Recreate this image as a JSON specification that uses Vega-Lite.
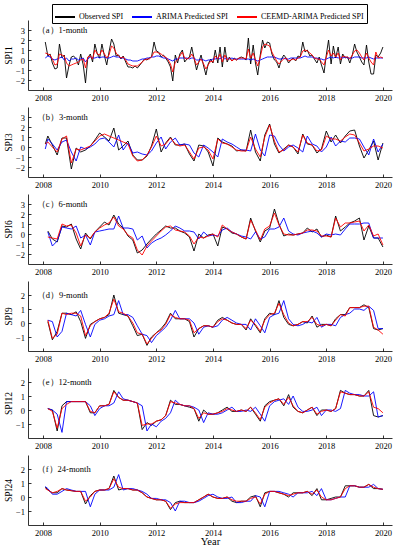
{
"$schema": "https://vega.github.io/schema/vega-lite/v6.json",
"padding": {"left": 3, "right": 8, "top": 3, "bottom": 2},
"bounds": "flush",
"spacing": 17,
"resolve": {"scale": {"color": "independent"}, "legend": {"color": "independent"}},
"config": {
 "font": "Liberation Serif",
 "view": {"stroke": null},
 "axis": {"domainColor": "black", "tickColor": "black", "labelColor": "black", "titleColor": "black", "labelFont": "Liberation Serif", "titleFont": "Liberation Serif", "labelFontSize": 8.5, "titleFontSize": 9.5, "titleFontWeight": "normal", "grid": false, "tickSize": -3, "domainWidth": 0.8, "tickWidth": 0.8, "labelOverlap": false},
 "axisY": {"labelPadding": 6.5, "titlePadding": 2, "tickCount": 10},
 "axisX": {"labelPadding": 6, "titlePadding": 1, "tickCount": 10},
 "text": {"font": "Liberation Serif", "fontSize": 8.5},
 "legend": {"orient": "none", "legendX": 24, "legendY": -16, "direction": "horizontal", "symbolType": "stroke", "symbolSize": 400, "symbolStrokeWidth": 2, "labelFont": "Liberation Serif", "labelFontSize": 8, "labelColor": "black", "strokeColor": "black", "fillColor": "white", "padding": 2, "columnPadding": 4, "labelOffset": 3}
},
"datasets": {
"a": [
{"t":2008.08,"o":1.8,"a":0.2,"c":0.7},{"t":2008.17,"o":0.4,"a":0.4,"c":0.6},{"t":2008.25,"o":0.6,"a":0.3,"c":0.5},{"t":2008.33,"o":-0.3,"a":0.1,"c":0.1},{"t":2008.42,"o":-0.9,"a":0.0,"c":-0.5},{"t":2008.5,"o":-0.8,"a":0.1,"c":-0.4},{"t":2008.58,"o":1.6,"a":0.2,"c":0.6},{"t":2008.67,"o":0.2,"a":0.3,"c":0.5},{"t":2008.75,"o":0.5,"a":0.0,"c":0.4},{"t":2008.83,"o":-1.8,"a":0.2,"c":-0.3},{"t":2008.92,"o":-0.5,"a":-0.1,"c":-0.6},{"t":2009.0,"o":0.3,"a":0.1,"c":-0.5},
{"t":2009.08,"o":0.4,"a":0.1,"c":-0.4},{"t":2009.17,"o":0.1,"a":0.2,"c":-0.3},{"t":2009.25,"o":-0.5,"a":0.0,"c":-0.2},{"t":2009.33,"o":0.6,"a":0.1,"c":0.0},{"t":2009.42,"o":-0.5,"a":0.2,"c":0.1},{"t":2009.5,"o":-2.3,"a":-0.2,"c":-0.8},{"t":2009.58,"o":0.2,"a":0.1,"c":0.3},{"t":2009.67,"o":0.6,"a":0.3,"c":0.4},{"t":2009.75,"o":-0.2,"a":0.2,"c":0.1},{"t":2009.83,"o":1.6,"a":0.2,"c":1.0},{"t":2009.92,"o":0.6,"a":0.3,"c":0.6},{"t":2010.0,"o":0.2,"a":0.2,"c":0.5},
{"t":2010.08,"o":1.6,"a":0.3,"c":1.0},{"t":2010.17,"o":0.4,"a":0.3,"c":0.6},{"t":2010.25,"o":-0.5,"a":0.2,"c":0.2},{"t":2010.33,"o":0.8,"a":0.2,"c":0.5},{"t":2010.42,"o":2.1,"a":0.3,"c":1.4},{"t":2010.5,"o":1.6,"a":0.4,"c":1.2},{"t":2010.58,"o":0.4,"a":0.3,"c":0.7},{"t":2010.67,"o":0.5,"a":0.3,"c":0.4},{"t":2010.75,"o":0.1,"a":0.2,"c":0.2},{"t":2010.83,"o":0.4,"a":0.2,"c":0.3},{"t":2010.92,"o":-0.2,"a":0.1,"c":0.0},{"t":2011.0,"o":-0.7,"a":0.0,"c":-0.4},
{"t":2011.08,"o":-0.7,"a":0.0,"c":-0.5},{"t":2011.17,"o":-0.8,"a":-0.1,"c":-0.6},{"t":2011.25,"o":-0.6,"a":-0.1,"c":-0.6},{"t":2011.33,"o":-0.8,"a":-0.1,"c":-0.6},{"t":2011.42,"o":-0.5,"a":0.0,"c":-0.4},{"t":2011.5,"o":-0.2,"a":0.1,"c":-0.2},{"t":2011.58,"o":0.1,"a":0.1,"c":0.0},{"t":2011.67,"o":0.0,"a":0.2,"c":0.1},{"t":2011.75,"o":0.2,"a":0.2,"c":0.1},{"t":2011.83,"o":0.3,"a":0.3,"c":0.3},{"t":2011.92,"o":1.8,"a":0.3,"c":0.8},{"t":2012.0,"o":0.9,"a":0.4,"c":0.8},
{"t":2012.08,"o":0.8,"a":0.4,"c":0.7},{"t":2012.17,"o":0.3,"a":0.3,"c":0.6},{"t":2012.25,"o":0.5,"a":0.2,"c":0.4},{"t":2012.33,"o":0.2,"a":0.2,"c":0.3},{"t":2012.42,"o":-0.2,"a":0.1,"c":0.0},{"t":2012.5,"o":-0.7,"a":0.0,"c":-0.4},{"t":2012.58,"o":-2.1,"a":-0.1,"c":-1.2},{"t":2012.67,"o":0.5,"a":0.1,"c":-0.2},{"t":2012.75,"o":-0.3,"a":0.1,"c":0.0},{"t":2012.83,"o":0.6,"a":0.2,"c":0.4},{"t":2012.92,"o":1.0,"a":0.2,"c":0.8},{"t":2013.0,"o":-0.2,"a":0.2,"c":0.2},
{"t":2013.08,"o":0.1,"a":0.2,"c":0.1},{"t":2013.17,"o":0.3,"a":0.1,"c":0.2},{"t":2013.25,"o":1.3,"a":0.2,"c":0.6},{"t":2013.33,"o":0.2,"a":0.2,"c":0.2},{"t":2013.42,"o":-1.0,"a":0.0,"c":-0.5},{"t":2013.5,"o":-0.2,"a":0.0,"c":-0.2},{"t":2013.58,"o":0.5,"a":0.1,"c":0.1},{"t":2013.67,"o":-0.6,"a":0.0,"c":-0.4},{"t":2013.75,"o":-1.5,"a":-0.1,"c":-0.9},{"t":2013.83,"o":-0.4,"a":0.0,"c":-0.5},{"t":2013.92,"o":0.1,"a":0.0,"c":-0.1},{"t":2014.0,"o":-0.3,"a":0.1,"c":-0.2},
{"t":2014.08,"o":1.0,"a":0.1,"c":0.4},{"t":2014.17,"o":-0.3,"a":0.2,"c":0.1},{"t":2014.25,"o":1.3,"a":0.1,"c":0.6},{"t":2014.33,"o":-0.7,"a":0.3,"c":-0.2},{"t":2014.42,"o":1.3,"a":0.1,"c":0.5},{"t":2014.5,"o":-0.2,"a":0.2,"c":0.0},{"t":2014.58,"o":0.3,"a":0.1,"c":0.2},{"t":2014.67,"o":-0.1,"a":0.2,"c":-0.1},{"t":2014.75,"o":0.2,"a":0.1,"c":0.1},{"t":2014.83,"o":0.0,"a":0.1,"c":0.0},{"t":2014.92,"o":0.2,"a":0.1,"c":0.2},{"t":2015.0,"o":0.3,"a":0.1,"c":0.2},
{"t":2015.08,"o":0.2,"a":0.1,"c":0.2},{"t":2015.17,"o":0.0,"a":0.1,"c":0.1},{"t":2015.25,"o":2.2,"a":0.1,"c":1.1},{"t":2015.33,"o":-0.4,"a":0.0,"c":0.2},{"t":2015.42,"o":1.5,"a":0.1,"c":0.7},{"t":2015.5,"o":-0.3,"a":0.0,"c":0.0},{"t":2015.58,"o":-1.5,"a":-0.1,"c":-0.6},{"t":2015.67,"o":0.5,"a":0.0,"c":0.3},{"t":2015.75,"o":2.0,"a":0.1,"c":1.3},{"t":2015.83,"o":1.2,"a":0.2,"c":1.6},{"t":2015.92,"o":1.8,"a":0.3,"c":1.5},{"t":2016.0,"o":1.7,"a":0.3,"c":1.4},
{"t":2016.08,"o":0.6,"a":0.3,"c":0.8},{"t":2016.17,"o":0.0,"a":0.3,"c":0.3},{"t":2016.25,"o":-0.2,"a":0.2,"c":-0.1},{"t":2016.33,"o":-0.8,"a":0.1,"c":-0.4},{"t":2016.42,"o":0.1,"a":0.1,"c":-0.1},{"t":2016.5,"o":0.5,"a":0.2,"c":0.1},{"t":2016.58,"o":0.2,"a":0.1,"c":0.2},{"t":2016.67,"o":-0.3,"a":0.1,"c":-0.1},{"t":2016.75,"o":0.0,"a":0.2,"c":0.0},{"t":2016.83,"o":0.2,"a":0.2,"c":0.1},{"t":2016.92,"o":-0.1,"a":0.2,"c":0.0},{"t":2017.0,"o":0.4,"a":0.2,"c":0.2},
{"t":2017.08,"o":0.3,"a":0.2,"c":0.3},{"t":2017.17,"o":1.8,"a":0.3,"c":0.9},{"t":2017.25,"o":0.8,"a":0.4,"c":1.0},{"t":2017.33,"o":1.0,"a":0.3,"c":0.9},{"t":2017.42,"o":0.4,"a":0.3,"c":0.7},{"t":2017.5,"o":0.5,"a":0.3,"c":0.5},{"t":2017.58,"o":0.1,"a":0.2,"c":0.2},{"t":2017.67,"o":-0.3,"a":0.2,"c":0.1},{"t":2017.75,"o":0.3,"a":0.1,"c":0.1},{"t":2017.83,"o":-0.5,"a":0.1,"c":-0.2},{"t":2017.92,"o":-1.3,"a":0.0,"c":-0.5},{"t":2018.0,"o":0.5,"a":0.1,"c":0.3},
{"t":2018.08,"o":2.0,"a":0.2,"c":1.0},{"t":2018.17,"o":-0.4,"a":0.3,"c":0.4},{"t":2018.25,"o":1.4,"a":0.2,"c":0.7},{"t":2018.33,"o":0.2,"a":0.3,"c":0.3},{"t":2018.42,"o":1.3,"a":0.2,"c":0.7},{"t":2018.5,"o":-0.4,"a":0.3,"c":0.0},{"t":2018.58,"o":0.6,"a":0.2,"c":0.4},{"t":2018.67,"o":0.2,"a":0.3,"c":0.3},{"t":2018.75,"o":0.3,"a":0.2,"c":0.3},{"t":2018.83,"o":-0.3,"a":0.2,"c":0.1},{"t":2018.92,"o":0.5,"a":0.2,"c":0.5},{"t":2019.0,"o":1.6,"a":0.3,"c":0.9},
{"t":2019.08,"o":0.8,"a":0.3,"c":1.0},{"t":2019.17,"o":0.3,"a":0.3,"c":0.7},{"t":2019.25,"o":-0.2,"a":0.2,"c":0.3},{"t":2019.33,"o":-0.5,"a":0.2,"c":0.0},{"t":2019.42,"o":1.5,"a":0.2,"c":0.7},{"t":2019.5,"o":-0.2,"a":0.3,"c":0.2},{"t":2019.58,"o":-1.4,"a":0.2,"c":-0.2},{"t":2019.67,"o":-1.4,"a":0.1,"c":-0.5},{"t":2019.75,"o":0.5,"a":0.2,"c":0.8},{"t":2019.83,"o":0.3,"a":0.2,"c":0.2},{"t":2019.92,"o":0.7,"a":0.2,"c":0.3},{"t":2020.0,"o":1.3,"a":0.2,"c":0.2}
],
"b": [
{"t":2008.08,"o":0.3,"a":-0.2,"c":0.3},{"t":2008.17,"o":1.1,"a":0.8,"c":0.5},{"t":2008.33,"o":0.2,"a":0.3,"c":0.0},{"t":2008.5,"o":-0.8,"a":-0.3,"c":-0.5},{"t":2008.67,"o":0.9,"a":0.5,"c":0.8},{"t":2008.83,"o":0.9,"a":0.7,"c":1.1},
{"t":2009.0,"o":-2.2,"a":-0.5,"c":-1.6},{"t":2009.17,"o":-0.1,"a":-1.4,"c":-0.2},{"t":2009.33,"o":-0.5,"a":0.0,"c":-0.3},{"t":2009.5,"o":-0.3,"a":-0.2,"c":-0.1},{"t":2009.67,"o":0.1,"a":0.0,"c":0.1},{"t":2009.83,"o":0.7,"a":0.3,"c":0.6},
{"t":2010.0,"o":1.4,"a":0.8,"c":1.1},{"t":2010.17,"o":1.0,"a":0.9,"c":1.3},{"t":2010.33,"o":0.6,"a":0.5,"c":1.1},{"t":2010.5,"o":1.9,"a":0.0,"c":0.9},{"t":2010.67,"o":-0.3,"a":1.2,"c":0.7},{"t":2010.83,"o":0.1,"a":-0.3,"c":0.5},
{"t":2011.0,"o":0.6,"a":0.4,"c":0.3},{"t":2011.17,"o":-0.8,"a":-0.6,"c":-0.9},{"t":2011.33,"o":-1.3,"a":-0.5,"c":-1.4},{"t":2011.5,"o":-1.3,"a":-0.7,"c":-1.3},{"t":2011.67,"o":-0.9,"a":-0.8,"c":-0.8},{"t":2011.83,"o":0.1,"a":-0.4,"c":0.0},
{"t":2012.0,"o":1.8,"a":0.4,"c":1.1},{"t":2012.17,"o":-0.5,"a":1.0,"c":0.1},{"t":2012.33,"o":0.4,"a":-0.2,"c":0.3},{"t":2012.5,"o":1.0,"a":0.5,"c":0.9},{"t":2012.67,"o":0.2,"a":0.9,"c":0.3},{"t":2012.83,"o":0.2,"a":0.2,"c":0.1},
{"t":2013.0,"o":0.3,"a":0.3,"c":0.2},{"t":2013.17,"o":-0.7,"a":0.2,"c":-0.5},{"t":2013.33,"o":-1.4,"a":-0.6,"c":-1.2},{"t":2013.5,"o":0.2,"a":-1.0,"c":-0.1},{"t":2013.67,"o":0.1,"a":0.2,"c":0.0},{"t":2013.83,"o":-0.5,"a":-0.1,"c":-0.3},
{"t":2014.0,"o":-1.9,"a":-0.5,"c":-1.2},{"t":2014.17,"o":0.9,"a":-1.0,"c":0.8},{"t":2014.33,"o":0.5,"a":0.8,"c":0.4},{"t":2014.5,"o":0.3,"a":0.5,"c":0.3},{"t":2014.67,"o":0.1,"a":0.3,"c":0.0},{"t":2014.83,"o":-0.4,"a":0.0,"c":-0.3},
{"t":2015.0,"o":-0.3,"a":-0.3,"c":-0.4},{"t":2015.17,"o":-0.4,"a":-0.3,"c":-0.4},{"t":2015.33,"o":1.7,"a":-0.4,"c":1.0},{"t":2015.5,"o":-0.5,"a":1.3,"c":-0.2},{"t":2015.67,"o":-1.4,"a":-0.3,"c":-1.0},{"t":2015.83,"o":1.2,"a":-0.9,"c":1.0},
{"t":2016.0,"o":2.3,"a":1.2,"c":2.2},{"t":2016.17,"o":0.3,"a":1.1,"c":0.6},{"t":2016.33,"o":-0.6,"a":0.2,"c":-0.5},{"t":2016.5,"o":-0.2,"a":-0.4,"c":-0.3},{"t":2016.67,"o":0.2,"a":0.0,"c":0.2},{"t":2016.83,"o":0.0,"a":0.2,"c":0.0},
{"t":2017.0,"o":-0.7,"a":-0.1,"c":-0.5},{"t":2017.17,"o":1.3,"a":-0.5,"c":1.2},{"t":2017.33,"o":0.3,"a":1.1,"c":0.4},{"t":2017.5,"o":0.2,"a":0.3,"c":0.2},{"t":2017.67,"o":-0.6,"a":0.1,"c":-0.4},{"t":2017.83,"o":-0.2,"a":-0.5,"c":-0.3},
{"t":2018.0,"o":1.6,"a":0.0,"c":1.1},{"t":2018.17,"o":0.5,"a":1.0,"c":0.8},{"t":2018.33,"o":1.2,"a":0.1,"c":0.8},{"t":2018.5,"o":0.4,"a":0.6,"c":0.6},{"t":2018.67,"o":1.1,"a":0.5,"c":1.0},{"t":2018.83,"o":1.6,"a":0.9,"c":1.3},
{"t":2019.0,"o":1.7,"a":0.9,"c":1.2},{"t":2019.17,"o":0.1,"a":0.8,"c":0.4},{"t":2019.33,"o":-1.1,"a":0.0,"c":-0.4},{"t":2019.5,"o":-0.3,"a":-0.8,"c":-0.2},{"t":2019.67,"o":0.6,"a":0.8,"c":0.1},{"t":2019.83,"o":-1.3,"a":-0.5,"c":0.1},
{"t":2020.0,"o":0.4,"a":0.3,"c":-0.1}
],
"c": [
{"t":2008.17,"o":0.3,"a":0.2,"c":-0.3},{"t":2008.33,"o":-0.5,"a":-1.2,"c":-0.4},{"t":2008.5,"o":-0.8,"a":-0.7,"c":-0.5},{"t":2008.67,"o":0.8,"a":0.7,"c":1.0},{"t":2008.83,"o":0.7,"a":0.6,"c":0.8},
{"t":2009.0,"o":1.0,"a":0.5,"c":0.9},{"t":2009.17,"o":-0.5,"a":0.8,"c":0.1},{"t":2009.33,"o":-1.5,"a":-0.4,"c":-1.2},{"t":2009.5,"o":0.1,"a":-0.1,"c":-0.1},{"t":2009.67,"o":-0.5,"a":-1.1,"c":-0.4},{"t":2009.83,"o":0.2,"a":0.2,"c":0.2},
{"t":2010.0,"o":0.7,"a":0.3,"c":0.6},{"t":2010.17,"o":1.2,"a":0.4,"c":0.9},{"t":2010.33,"o":0.9,"a":0.5,"c":1.1},{"t":2010.5,"o":1.9,"a":0.5,"c":1.7},{"t":2010.67,"o":1.0,"a":1.8,"c":0.8},{"t":2010.83,"o":0.6,"a":0.6,"c":0.5},
{"t":2011.0,"o":-0.2,"a":0.6,"c":-0.1},{"t":2011.17,"o":-0.6,"a":0.5,"c":-0.4},{"t":2011.33,"o":-1.9,"a":-0.6,"c":-1.6},{"t":2011.5,"o":-1.6,"a":-0.2,"c":-2.1},{"t":2011.67,"o":-1.0,"a":-1.4,"c":-1.2},{"t":2011.83,"o":-0.5,"a":-0.9,"c":-0.7},
{"t":2012.0,"o":0.0,"a":-0.6,"c":-0.2},{"t":2012.17,"o":0.4,"a":-0.4,"c":0.3},{"t":2012.33,"o":0.8,"a":-0.1,"c":0.7},{"t":2012.5,"o":0.6,"a":0.3,"c":0.8},{"t":2012.67,"o":0.6,"a":0.8,"c":0.4},{"t":2012.83,"o":0.3,"a":0.6,"c":0.3},
{"t":2013.0,"o":0.1,"a":0.3,"c":0.2},{"t":2013.17,"o":-0.3,"a":0.3,"c":-0.2},{"t":2013.33,"o":-1.7,"a":0.2,"c":-1.0},{"t":2013.5,"o":0.0,"a":-0.5,"c":-0.3},{"t":2013.67,"o":-0.4,"a":0.2,"c":-0.4},{"t":2013.83,"o":-0.1,"a":-0.2,"c":-0.2},
{"t":2014.0,"o":0.0,"a":-0.1,"c":0.0},{"t":2014.17,"o":-1.2,"a":-0.2,"c":-0.3},{"t":2014.33,"o":0.7,"a":0.4,"c":0.9},{"t":2014.5,"o":0.5,"a":0.6,"c":0.5},{"t":2014.67,"o":0.1,"a":0.2,"c":0.2},{"t":2014.83,"o":0.0,"a":0.0,"c":0.0},
{"t":2015.0,"o":-0.3,"a":-0.2,"c":-0.3},{"t":2015.17,"o":-0.5,"a":-0.3,"c":-0.5},{"t":2015.33,"o":1.6,"a":-0.5,"c":1.4},{"t":2015.5,"o":0.3,"a":0.2,"c":0.4},{"t":2015.67,"o":-0.8,"a":-0.5,"c":-0.6},{"t":2015.83,"o":0.3,"a":-0.3,"c":0.5},
{"t":2016.0,"o":0.6,"a":0.5,"c":0.8},{"t":2016.17,"o":2.5,"a":0.5,"c":2.1},{"t":2016.33,"o":1.0,"a":0.7,"c":0.9},{"t":2016.5,"o":-0.2,"a":1.6,"c":0.0},{"t":2016.67,"o":0.0,"a":0.3,"c":-0.1},{"t":2016.83,"o":-0.1,"a":0.0,"c":-0.1},
{"t":2017.0,"o":0.0,"a":-0.1,"c":0.0},{"t":2017.17,"o":0.1,"a":0.1,"c":0.1},{"t":2017.33,"o":0.6,"a":0.2,"c":0.4},{"t":2017.5,"o":0.2,"a":0.3,"c":0.4},{"t":2017.67,"o":0.5,"a":0.1,"c":0.3},{"t":2017.83,"o":-0.3,"a":-0.3,"c":-0.2},
{"t":2018.0,"o":-0.1,"a":0.0,"c":-0.2},{"t":2018.17,"o":-0.3,"a":-0.1,"c":-0.3},{"t":2018.33,"o":1.8,"a":0.0,"c":1.6},{"t":2018.5,"o":0.3,"a":-0.1,"c":0.7},{"t":2018.67,"o":0.7,"a":0.5,"c":1.1},{"t":2018.83,"o":1.1,"a":1.0,"c":1.1},
{"t":2019.0,"o":1.3,"a":1.0,"c":1.2},{"t":2019.17,"o":1.6,"a":1.0,"c":1.3},{"t":2019.33,"o":-0.6,"a":1.1,"c":0.3},{"t":2019.5,"o":0.8,"a":1.1,"c":0.9},{"t":2019.67,"o":-0.4,"a":-0.4,"c":-0.2},{"t":2019.83,"o":-0.4,"a":-0.4,"c":0.0},
{"t":2020.0,"o":-1.3,"a":-0.4,"c":-1.1}
],
"d": [
{"t":2008.17,"o":0.1,"a":0.2,"c":0.2},{"t":2008.33,"o":-1.2,"a":0.1,"c":-1.1},{"t":2008.5,"o":-0.6,"a":-1.0,"c":-0.8},{"t":2008.67,"o":0.7,"a":-0.6,"c":0.7},{"t":2008.83,"o":0.7,"a":0.7,"c":0.6},
{"t":2009.0,"o":0.6,"a":0.6,"c":0.7},{"t":2009.17,"o":0.8,"a":0.5,"c":0.7},{"t":2009.33,"o":0.1,"a":0.9,"c":0.5},{"t":2009.5,"o":-1.1,"a":-0.1,"c":-0.9},{"t":2009.67,"o":-0.1,"a":-1.0,"c":-0.2},{"t":2009.83,"o":0.1,"a":-0.1,"c":0.1},
{"t":2010.0,"o":0.3,"a":0.2,"c":0.3},{"t":2010.17,"o":0.4,"a":0.3,"c":0.4},{"t":2010.33,"o":0.6,"a":0.5,"c":0.7},{"t":2010.5,"o":2.0,"a":0.6,"c":1.7},{"t":2010.67,"o":0.7,"a":1.6,"c":0.8},{"t":2010.83,"o":0.6,"a":0.6,"c":0.7},
{"t":2011.0,"o":0.5,"a":0.6,"c":0.5},{"t":2011.17,"o":-0.2,"a":0.4,"c":0.0},{"t":2011.33,"o":-0.9,"a":-0.2,"c":-0.7},{"t":2011.5,"o":-0.8,"a":-0.8,"c":-0.8},{"t":2011.67,"o":-1.6,"a":-0.9,"c":-1.5},{"t":2011.83,"o":-1.0,"a":-1.4,"c":-1.1},
{"t":2012.0,"o":-0.7,"a":-0.9,"c":-0.7},{"t":2012.17,"o":-0.4,"a":-0.6,"c":-0.5},{"t":2012.33,"o":0.0,"a":-0.3,"c":-0.1},{"t":2012.5,"o":0.7,"a":0.2,"c":0.6},{"t":2012.67,"o":0.3,"a":0.9,"c":0.4},{"t":2012.83,"o":0.3,"a":0.3,"c":0.3},
{"t":2013.0,"o":0.3,"a":0.3,"c":0.3},{"t":2013.17,"o":0.1,"a":0.3,"c":0.2},{"t":2013.33,"o":-1.0,"a":0.0,"c":-0.7},{"t":2013.5,"o":-0.4,"a":-0.8,"c":-0.4},{"t":2013.67,"o":-0.2,"a":-0.3,"c":-0.2},{"t":2013.83,"o":-0.2,"a":-0.2,"c":-0.2},
{"t":2014.0,"o":-0.3,"a":-0.3,"c":-0.3},{"t":2014.17,"o":0.2,"a":-0.2,"c":0.1},{"t":2014.33,"o":0.4,"a":0.2,"c":0.3},{"t":2014.5,"o":0.2,"a":0.4,"c":0.2},{"t":2014.67,"o":0.0,"a":0.2,"c":0.0},{"t":2014.83,"o":-0.1,"a":0.0,"c":-0.1},
{"t":2015.0,"o":-0.1,"a":-0.1,"c":-0.1},{"t":2015.17,"o":-0.5,"a":-0.1,"c":-0.4},{"t":2015.33,"o":0.3,"a":-0.5,"c":0.2},{"t":2015.5,"o":-0.2,"a":0.3,"c":-0.1},{"t":2015.67,"o":-0.7,"a":-0.2,"c":-0.6},{"t":2015.83,"o":0.3,"a":-0.7,"c":0.2},
{"t":2016.0,"o":0.7,"a":0.4,"c":0.6},{"t":2016.17,"o":0.6,"a":0.6,"c":0.7},{"t":2016.33,"o":1.6,"a":0.7,"c":1.4},{"t":2016.5,"o":0.4,"a":1.6,"c":0.6},{"t":2016.67,"o":-0.1,"a":0.3,"c":0.0},{"t":2016.83,"o":-0.2,"a":-0.1,"c":-0.2},
{"t":2017.0,"o":-0.1,"a":-0.2,"c":-0.1},{"t":2017.17,"o":0.1,"a":-0.1,"c":0.1},{"t":2017.33,"o":0.0,"a":0.1,"c":0.1},{"t":2017.5,"o":0.5,"a":0.0,"c":0.4},{"t":2017.67,"o":-0.3,"a":0.4,"c":-0.1},{"t":2017.83,"o":-0.1,"a":-0.3,"c":-0.2},
{"t":2018.0,"o":-0.1,"a":-0.1,"c":-0.1},{"t":2018.17,"o":-0.2,"a":-0.1,"c":-0.2},{"t":2018.33,"o":0.3,"a":-0.2,"c":0.2},{"t":2018.5,"o":0.6,"a":0.4,"c":0.6},{"t":2018.67,"o":0.6,"a":0.6,"c":0.5},{"t":2018.83,"o":1.1,"a":0.7,"c":1.1},
{"t":2019.0,"o":1.1,"a":1.0,"c":1.1},{"t":2019.17,"o":1.1,"a":1.0,"c":1.1},{"t":2019.33,"o":1.3,"a":0.9,"c":1.2},{"t":2019.5,"o":1.1,"a":1.2,"c":1.2},{"t":2019.67,"o":-0.4,"a":0.9,"c":-0.3},{"t":2019.83,"o":-0.5,"a":-0.4,"c":-0.5},
{"t":2020.0,"o":-0.4,"a":-0.4,"c":-0.8}
],
"e": [
{"t":2008.17,"o":0.1,"a":0.1,"c":0.1},{"t":2008.33,"o":0.0,"a":0.0,"c":-0.1},{"t":2008.5,"o":-1.5,"a":-0.3,"c":-1.3},{"t":2008.67,"o":0.3,"a":-1.6,"c":0.1},{"t":2008.83,"o":0.6,"a":0.6,"c":0.4},
{"t":2009.0,"o":0.6,"a":0.6,"c":0.6},{"t":2009.17,"o":0.6,"a":0.6,"c":0.6},{"t":2009.33,"o":0.6,"a":0.6,"c":0.6},{"t":2009.5,"o":0.6,"a":0.6,"c":0.6},{"t":2009.67,"o":-0.2,"a":0.3,"c":-0.1},{"t":2009.83,"o":-0.2,"a":-0.4,"c":-0.2},
{"t":2010.0,"o":0.3,"a":0.1,"c":0.3},{"t":2010.17,"o":0.3,"a":0.3,"c":0.3},{"t":2010.33,"o":0.4,"a":0.3,"c":0.4},{"t":2010.5,"o":1.4,"a":0.5,"c":1.3},{"t":2010.67,"o":0.9,"a":1.3,"c":0.9},{"t":2010.83,"o":0.7,"a":0.8,"c":0.7},
{"t":2011.0,"o":0.7,"a":0.7,"c":0.7},{"t":2011.17,"o":0.6,"a":0.6,"c":0.6},{"t":2011.33,"o":0.5,"a":0.5,"c":0.5},{"t":2011.5,"o":-1.4,"a":0.3,"c":-1.1},{"t":2011.67,"o":-0.9,"a":-1.5,"c":-1.0},{"t":2011.83,"o":-1.1,"a":-1.0,"c":-1.0},
{"t":2012.0,"o":-0.8,"a":-1.2,"c":-0.8},{"t":2012.17,"o":-0.7,"a":-0.8,"c":-0.7},{"t":2012.33,"o":-0.4,"a":-0.6,"c":-0.4},{"t":2012.5,"o":0.7,"a":-0.2,"c":0.6},{"t":2012.67,"o":0.4,"a":0.7,"c":0.5},{"t":2012.83,"o":0.4,"a":0.4,"c":0.4},
{"t":2013.0,"o":0.3,"a":0.3,"c":0.3},{"t":2013.17,"o":0.2,"a":0.3,"c":0.3},{"t":2013.33,"o":0.1,"a":0.2,"c":0.1},{"t":2013.5,"o":-0.8,"a":0.0,"c":-0.6},{"t":2013.67,"o":0.0,"a":-0.9,"c":-0.2},{"t":2013.83,"o":-0.3,"a":-0.2,"c":-0.3},
{"t":2014.0,"o":-0.3,"a":-0.3,"c":-0.3},{"t":2014.17,"o":-0.2,"a":-0.3,"c":-0.2},{"t":2014.33,"o":0.0,"a":-0.2,"c":-0.1},{"t":2014.5,"o":0.2,"a":0.0,"c":0.1},{"t":2014.67,"o":-0.1,"a":0.2,"c":0.0},{"t":2014.83,"o":-0.1,"a":-0.1,"c":-0.1},
{"t":2015.0,"o":0.0,"a":-0.1,"c":0.0},{"t":2015.17,"o":-0.1,"a":0.0,"c":-0.1},{"t":2015.33,"o":0.2,"a":-0.1,"c":0.2},{"t":2015.5,"o":-0.3,"a":0.2,"c":-0.2},{"t":2015.67,"o":-0.8,"a":-0.3,"c":-0.7},{"t":2015.83,"o":0.3,"a":-0.8,"c":0.2},
{"t":2016.0,"o":0.6,"a":0.3,"c":0.5},{"t":2016.17,"o":0.7,"a":0.6,"c":0.7},{"t":2016.33,"o":0.8,"a":0.7,"c":0.8},{"t":2016.5,"o":0.3,"a":0.8,"c":0.4},{"t":2016.67,"o":1.1,"a":0.4,"c":0.9},{"t":2016.83,"o":0.2,"a":1.0,"c":0.3},
{"t":2017.0,"o":-0.1,"a":0.2,"c":-0.1},{"t":2017.17,"o":-0.2,"a":-0.1,"c":-0.2},{"t":2017.33,"o":0.0,"a":-0.1,"c":0.0},{"t":2017.5,"o":0.2,"a":0.0,"c":0.2},{"t":2017.67,"o":-0.4,"a":0.2,"c":-0.3},{"t":2017.83,"o":0.0,"a":-0.4,"c":-0.1},
{"t":2018.0,"o":0.0,"a":0.0,"c":0.0},{"t":2018.17,"o":-0.1,"a":0.0,"c":-0.1},{"t":2018.33,"o":0.1,"a":-0.1,"c":0.1},{"t":2018.5,"o":1.4,"a":0.1,"c":1.3},{"t":2018.67,"o":1.2,"a":1.4,"c":1.2},{"t":2018.83,"o":1.1,"a":1.2,"c":1.1},
{"t":2019.0,"o":1.1,"a":1.1,"c":1.1},{"t":2019.17,"o":1.0,"a":1.1,"c":1.0},{"t":2019.33,"o":1.0,"a":1.0,"c":1.0},{"t":2019.5,"o":1.4,"a":1.0,"c":1.3},{"t":2019.67,"o":-0.4,"a":1.3,"c":0.2},{"t":2019.83,"o":-0.5,"a":-0.5,"c":0.1},
{"t":2020.0,"o":-0.4,"a":-0.4,"c":-0.2}
],
"f": [
{"t":2008.08,"o":0.7,"a":0.75,"c":0.6},{"t":2008.17,"o":0.5,"a":0.6,"c":0.5},{"t":2008.33,"o":0.3,"a":0.2,"c":0.3},{"t":2008.5,"o":0.3,"a":0.2,"c":0.4},{"t":2008.67,"o":0.6,"a":0.4,"c":0.6},{"t":2008.83,"o":0.5,"a":0.6,"c":0.5},
{"t":2009.0,"o":0.45,"a":0.5,"c":0.45},{"t":2009.17,"o":0.4,"a":0.4,"c":0.4},{"t":2009.33,"o":0.4,"a":0.4,"c":0.4},{"t":2009.5,"o":-0.5,"a":0.4,"c":-0.3},{"t":2009.67,"o":0.1,"a":-0.7,"c":0.0},{"t":2009.83,"o":0.4,"a":0.2,"c":0.4},
{"t":2010.0,"o":0.5,"a":0.5,"c":0.5},{"t":2010.17,"o":0.5,"a":0.5,"c":0.5},{"t":2010.33,"o":0.6,"a":0.5,"c":0.6},{"t":2010.5,"o":1.5,"a":0.7,"c":1.3},{"t":2010.67,"o":0.5,"a":1.6,"c":0.7},{"t":2010.83,"o":0.6,"a":0.5,"c":0.6},
{"t":2011.0,"o":0.6,"a":0.6,"c":0.6},{"t":2011.17,"o":0.5,"a":0.6,"c":0.5},{"t":2011.33,"o":0.5,"a":0.5,"c":0.5},{"t":2011.5,"o":0.3,"a":0.4,"c":0.3},{"t":2011.67,"o":0.0,"a":0.2,"c":0.0},{"t":2011.83,"o":-0.1,"a":-0.1,"c":-0.1},
{"t":2012.0,"o":-0.2,"a":-0.1,"c":-0.2},{"t":2012.17,"o":-0.2,"a":-0.2,"c":-0.2},{"t":2012.33,"o":-0.3,"a":-0.2,"c":-0.3},{"t":2012.5,"o":-0.9,"a":-0.4,"c":-0.8},{"t":2012.67,"o":-0.4,"a":-1.0,"c":-0.5},{"t":2012.83,"o":-0.3,"a":-0.3,"c":-0.4},
{"t":2013.0,"o":-0.4,"a":-0.3,"c":-0.4},{"t":2013.17,"o":-0.4,"a":-0.4,"c":-0.4},{"t":2013.33,"o":-0.4,"a":-0.4,"c":-0.4},{"t":2013.5,"o":-0.2,"a":-0.3,"c":-0.2},{"t":2013.67,"o":0.0,"a":-0.1,"c":0.0},{"t":2013.83,"o":0.2,"a":0.1,"c":0.2},
{"t":2014.0,"o":0.0,"a":0.2,"c":0.0},{"t":2014.17,"o":-0.1,"a":0.0,"c":-0.1},{"t":2014.33,"o":-0.1,"a":-0.1,"c":-0.1},{"t":2014.5,"o":0.0,"a":-0.1,"c":0.0},{"t":2014.67,"o":-0.3,"a":0.0,"c":-0.2},{"t":2014.83,"o":-0.4,"a":-0.4,"c":-0.3},
{"t":2015.0,"o":-0.3,"a":-0.4,"c":-0.3},{"t":2015.17,"o":-0.3,"a":-0.3,"c":-0.3},{"t":2015.33,"o":0.0,"a":-0.3,"c":-0.1},{"t":2015.5,"o":0.1,"a":0.1,"c":0.0},{"t":2015.67,"o":-0.7,"a":0.0,"c":-0.5},{"t":2015.83,"o":0.3,"a":-0.7,"c":0.2},
{"t":2016.0,"o":0.4,"a":0.4,"c":0.4},{"t":2016.17,"o":0.4,"a":0.4,"c":0.4},{"t":2016.33,"o":0.3,"a":0.4,"c":0.3},{"t":2016.5,"o":0.2,"a":0.3,"c":0.2},{"t":2016.67,"o":0.0,"a":0.2,"c":0.1},{"t":2016.83,"o":0.3,"a":0.0,"c":0.2},
{"t":2017.0,"o":0.3,"a":0.3,"c":0.3},{"t":2017.17,"o":0.3,"a":0.3,"c":0.3},{"t":2017.33,"o":0.4,"a":0.3,"c":0.4},{"t":2017.5,"o":0.1,"a":0.4,"c":0.2},{"t":2017.67,"o":0.6,"a":0.1,"c":0.5},{"t":2017.83,"o":-0.2,"a":0.6,"c":0.0},
{"t":2018.0,"o":-0.2,"a":-0.2,"c":-0.2},{"t":2018.17,"o":-0.1,"a":-0.2,"c":-0.2},{"t":2018.33,"o":0.0,"a":-0.1,"c":-0.1},{"t":2018.5,"o":0.0,"a":0.0,"c":0.0},{"t":2018.67,"o":0.8,"a":0.0,"c":0.6},{"t":2018.83,"o":0.8,"a":0.8,"c":0.8},
{"t":2019.0,"o":0.8,"a":0.8,"c":0.8},{"t":2019.17,"o":0.7,"a":0.7,"c":0.7},{"t":2019.33,"o":0.7,"a":0.7,"c":0.7},{"t":2019.5,"o":0.9,"a":0.7,"c":0.9},{"t":2019.67,"o":0.6,"a":0.9,"c":0.7},{"t":2019.83,"o":0.6,"a":0.6,"c":0.6},
{"t":2020.0,"o":0.55,"a":0.55,"c":0.55}
]
},
"vconcat": [
{"width": 364, "height": 70,
 "layer": [
  {"data": {"name": "a"}, "transform": [{"fold": ["o", "a", "c"], "as": ["s", "v"]}],
   "mark": {"type": "line", "strokeWidth": 0.9},
   "encoding": {
    "x": {"field": "t", "type": "quantitative", "scale": {"domain": [2007.47, 2020.32], "nice": false, "zero": false}, "axis": {"values": [2008, 2010, 2012, 2014, 2016, 2018, 2020], "format": "d", "title": null, "labelOverlap": false}},
    "y": {"field": "v", "type": "quantitative", "scale": {"domain": [-3, 4], "nice": false, "zero": false}, "axis": {"values": [-2, -1, 0, 1, 2, 3], "tickCount": 10, "format": "d", "title": "SPI1", "labelOverlap": false}},
    "color": {"field": "s", "type": "nominal", "sort": null, "scale": {"domain": ["o", "a", "c"], "range": ["#000000", "#0000ff", "#ff0000"]}, "legend": {"title": null, "labelExpr": "datum.label == 'o' ? 'Observed SPI' : datum.label == 'a' ? 'ARIMA Predicted SPI' : 'CEEMD-ARIMA Predicted SPI'"}}
   }},
  {"data": {"values": [{"label": "（a）1-month"}]}, "mark": {"type": "text", "align": "left", "baseline": "middle"},
   "encoding": {"x": {"datum": 2007.78}, "y": {"datum": 3}, "text": {"field": "label"}}}
 ]},
{"width": 364, "height": 70,
 "layer": [
  {"data": {"name": "b"}, "transform": [{"fold": ["o", "a", "c"], "as": ["s", "v"]}],
   "mark": {"type": "line", "strokeWidth": 0.9},
   "encoding": {
    "x": {"field": "t", "type": "quantitative", "scale": {"domain": [2007.47, 2020.32], "nice": false, "zero": false}, "axis": {"values": [2008, 2010, 2012, 2014, 2016, 2018, 2020], "format": "d", "title": null, "labelOverlap": false}},
    "y": {"field": "v", "type": "quantitative", "scale": {"domain": [-3, 4], "nice": false, "zero": false}, "axis": {"values": [-2, -1, 0, 1, 2, 3], "tickCount": 10, "format": "d", "title": "SPI3", "labelOverlap": false}},
    "color": {"field": "s", "type": "nominal", "scale": {"domain": ["o", "a", "c"], "range": ["#000000", "#0000ff", "#ff0000"]}, "legend": null}
   }},
  {"data": {"values": [{"label": "（b）3-month"}]}, "mark": {"type": "text", "align": "left", "baseline": "middle"},
   "encoding": {"x": {"datum": 2007.78}, "y": {"datum": 3}, "text": {"field": "label"}}}
 ]},
{"width": 364, "height": 70,
 "layer": [
  {"data": {"name": "c"}, "transform": [{"fold": ["o", "a", "c"], "as": ["s", "v"]}],
   "mark": {"type": "line", "strokeWidth": 0.9},
   "encoding": {
    "x": {"field": "t", "type": "quantitative", "scale": {"domain": [2007.47, 2020.32], "nice": false, "zero": false}, "axis": {"values": [2008, 2010, 2012, 2014, 2016, 2018, 2020], "format": "d", "title": null, "labelOverlap": false}},
    "y": {"field": "v", "type": "quantitative", "scale": {"domain": [-3, 4], "nice": false, "zero": false}, "axis": {"values": [-2, -1, 0, 1, 2, 3], "tickCount": 10, "format": "d", "title": "SPI6", "labelOverlap": false}},
    "color": {"field": "s", "type": "nominal", "scale": {"domain": ["o", "a", "c"], "range": ["#000000", "#0000ff", "#ff0000"]}, "legend": null}
   }},
  {"data": {"values": [{"label": "（c）6-month"}]}, "mark": {"type": "text", "align": "left", "baseline": "middle"},
   "encoding": {"x": {"datum": 2007.78}, "y": {"datum": 3}, "text": {"field": "label"}}}
 ]},
{"width": 364, "height": 70,
 "layer": [
  {"data": {"name": "d"}, "transform": [{"fold": ["o", "a", "c"], "as": ["s", "v"]}],
   "mark": {"type": "line", "strokeWidth": 0.9},
   "encoding": {
    "x": {"field": "t", "type": "quantitative", "scale": {"domain": [2007.47, 2020.32], "nice": false, "zero": false}, "axis": {"values": [2008, 2010, 2012, 2014, 2016, 2018, 2020], "format": "d", "title": null, "labelOverlap": false}},
    "y": {"field": "v", "type": "quantitative", "scale": {"domain": [-2, 3], "nice": false, "zero": false}, "axis": {"values": [-1, 0, 1, 2], "tickCount": 10, "format": "d", "title": "SPI9", "labelOverlap": false}},
    "color": {"field": "s", "type": "nominal", "scale": {"domain": ["o", "a", "c"], "range": ["#000000", "#0000ff", "#ff0000"]}, "legend": null}
   }},
  {"data": {"values": [{"label": "（d）9-month"}]}, "mark": {"type": "text", "align": "left", "baseline": "middle"},
   "encoding": {"x": {"datum": 2007.78}, "y": {"datum": 2}, "text": {"field": "label"}}}
 ]},
{"width": 364, "height": 70,
 "layer": [
  {"data": {"name": "e"}, "transform": [{"fold": ["o", "a", "c"], "as": ["s", "v"]}],
   "mark": {"type": "line", "strokeWidth": 0.9},
   "encoding": {
    "x": {"field": "t", "type": "quantitative", "scale": {"domain": [2007.47, 2020.32], "nice": false, "zero": false}, "axis": {"values": [2008, 2010, 2012, 2014, 2016, 2018, 2020], "format": "d", "title": null, "labelOverlap": false}},
    "y": {"field": "v", "type": "quantitative", "scale": {"domain": [-2, 3], "nice": false, "zero": false}, "axis": {"values": [-1, 0, 1, 2], "tickCount": 10, "format": "d", "title": "SPI12", "labelOverlap": false}},
    "color": {"field": "s", "type": "nominal", "scale": {"domain": ["o", "a", "c"], "range": ["#000000", "#0000ff", "#ff0000"]}, "legend": null}
   }},
  {"data": {"values": [{"label": "（e）12-month"}]}, "mark": {"type": "text", "align": "left", "baseline": "middle"},
   "encoding": {"x": {"datum": 2007.78}, "y": {"datum": 2}, "text": {"field": "label"}}}
 ]},
{"width": 364, "height": 70,
 "layer": [
  {"data": {"name": "f"}, "transform": [{"fold": ["o", "a", "c"], "as": ["s", "v"]}],
   "mark": {"type": "line", "strokeWidth": 0.9},
   "encoding": {
    "x": {"field": "t", "type": "quantitative", "scale": {"domain": [2007.47, 2020.32], "nice": false, "zero": false}, "axis": {"values": [2008, 2010, 2012, 2014, 2016, 2018, 2020], "format": "d", "title": "Year", "titleFontSize": 10.5, "titlePadding": 0, "labelOverlap": false}},
    "y": {"field": "v", "type": "quantitative", "scale": {"domain": [-2, 3], "nice": false, "zero": false}, "axis": {"values": [-1, 0, 1, 2], "tickCount": 10, "format": "d", "title": "SPI24", "labelOverlap": false}},
    "color": {"field": "s", "type": "nominal", "scale": {"domain": ["o", "a", "c"], "range": ["#000000", "#0000ff", "#ff0000"]}, "legend": null}
   }},
  {"data": {"values": [{"label": "（f）24-month"}]}, "mark": {"type": "text", "align": "left", "baseline": "middle"},
   "encoding": {"x": {"datum": 2007.78}, "y": {"datum": 2}, "text": {"field": "label"}}}
 ]}
]
}
